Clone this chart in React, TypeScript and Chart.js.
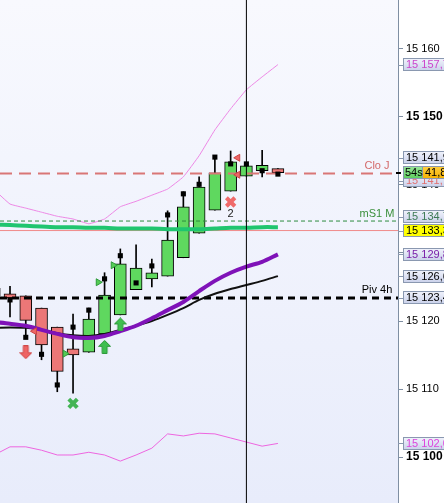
import React, { useEffect, useRef } from 'react';
import { Chart, registerables } from 'chart.js';

Chart.register(...registerables);

const FONT = "'Liberation Sans', Arial, sans-serif";

// ---- data ----
const CANDLE_INDEX = [0, 1, 2, 3, 4, 5, 6, 7, 8, 9, 10, 11, 12, 13, 14, 15, 16, 17, 18];
const OPEN = [15124.8, 15124.0, 15123.7, 15121.9, 15119.1, 15115.9, 15115.4, 15118.1, 15120.9, 15124.6, 15126.2, 15126.6, 15129.3, 15132.9, 15136.3, 15139.1, 15141.3, 15142.1, 15142.4];
const HIGH = [15125.5, 15125.1, 15123.7, 15121.9, 15119.1, 15121.0, 15121.9, 15127.1, 15130.6, 15131.2, 15129.1, 15136.2, 15139.0, 15141.2, 15144.1, 15145.0, 15143.2, 15145.1, 15142.4];
const LOW = [15122.8, 15120.6, 15117.6, 15114.3, 15109.6, 15109.4, 15115.4, 15118.1, 15120.9, 15124.6, 15125.0, 15126.6, 15129.3, 15132.9, 15136.3, 15139.1, 15141.3, 15141.2, 15141.8];
const CLOSE = [15123.7, 15123.4, 15120.1, 15116.5, 15112.6, 15115.0, 15120.3, 15123.8, 15128.4, 15127.8, 15127.1, 15131.9, 15136.8, 15139.7, 15141.8, 15143.4, 15142.8, 15142.9, 15141.8];

const SQUARE_INDEX = [1, 2, 3, 4, 5, 6, 7, 8, 9, 10, 11, 12, 13, 14, 15, 16, 17, 18];
const SQUARE_VALUE = [15123.1, 15117.6, 15115.1, 15110.6, 15119.1, 15121.6, 15126.2, 15129.6, 15125.6, 15128.1, 15135.6, 15138.7, 15140.1, 15144.1, 15143.1, 15143.1, 15142.1, 15141.6];

const BB_UPPER = [15139.3, 15137.2, 15136.6, 15136.0, 15135.4, 15135.0, 15134.3, 15135.0, 15136.8, 15137.6, 15138.5, 15139.4, 15141.2, 15144.3, 15148.1, 15151.2, 15154.0, 15155.9, 15157.7];
const BB_LOWER = [15100.3, 15101.5, 15101.5, 15101.0, 15100.3, 15100.3, 15100.7, 15100.3, 15099.4, 15100.3, 15101.3, 15103.4, 15103.1, 15103.5, 15103.4, 15102.8, 15102.2, 15101.6, 15102.0];
const MA_PURPLE = [15119.85, 15119.6, 15119.3, 15118.7, 15118.1, 15117.6, 15117.5, 15117.8, 15118.5, 15119.3, 15120.4, 15121.6, 15122.8, 15124.4, 15125.9, 15127.1, 15128.0, 15128.7, 15129.8];
const MA_BLACK = [15119.0, 15119.05, 15119.0, 15118.7, 15118.2, 15117.9, 15117.8, 15118.1, 15118.7, 15119.3, 15120.0, 15120.9, 15121.9, 15123.1, 15124.0, 15124.7, 15125.3, 15125.9, 15126.6];
const MA_GREEN = [15134.2, 15134.1, 15134.0, 15133.9, 15133.8, 15133.8, 15133.7, 15133.7, 15133.6, 15133.6, 15133.6, 15133.5, 15133.5, 15133.5, 15133.6, 15133.7, 15133.7, 15133.8, 15133.8];

const LEVEL_CLO_J = 15141.7;
const LEVEL_MS1_M = 15134.7;
const LEVEL_PINK = 15133.3;
const LEVEL_PIV_4H = 15123.4;
const LEVEL_NAMES = ['Clo J', 'mS1 M', 'Piv 4h'];
const LEVEL_NAME_VALUES = [LEVEL_CLO_J, LEVEL_MS1_M, LEVEL_PIV_4H];

const CURSOR_INDEX = 16;

const GREEN_TRI_X = [4.5, 6.6, 7.55];
const GREEN_TRI_Y = [15115.2, 15125.7, 15128.2];
const RED_TRI_X = [15.45, 15.45, 2.55];
const RED_TRI_Y = [15144.0, 15141.5, 15118.5];
const GREEN_ARROW_X = [7, 8];
const GREEN_ARROW_Y = [15116.2, 15119.5];
const RED_ARROW_X = [2];
const RED_ARROW_Y = [15115.4];
const GREEN_CROSS_X = [5];
const GREEN_CROSS_Y = [15107.9];
const RED_CROSS_X = [15];
const RED_CROSS_Y = [15137.5];
const NOTE_X = [15];
const NOTE_Y = [15135.7];
const NOTE_TEXT = ['2'];

const Y_TICKS = [15100, 15110, 15120, 15130, 15140, 15150, 15160];
const BOLD_TICKS = [15100, 15150];

const AXIS_BOX_VALUES = [15157.7, 15141.9, 15141.7, 15134.7, 15133.3, 15129.8, 15126.6, 15123.4, 15102.0];
const AXIS_BOX_TEXT = ['#cc44cc', '#000000', '#e07070', '#3d7a55', '#000000', '#7a1fa8', '#000000', '#000000', '#dd44dd'];
const AXIS_BOX_BG = ['grad', 'grad', 'grad', 'grad', '#ffff00', 'grad', 'grad', 'grad', 'grad'];
const CURRENT_PRICE = 15141.8;
const COUNTDOWN = '54s';

const Y_MIN = 15093.24;
const Y_MAX = 15167.2;
const X_MIN = 0.365;
const X_MAX = 25.62;

function fmtPrice(v: number, dec: number) {
  const s = v.toFixed(dec);
  const [int, frac] = s.split('.');
  const grouped = int.replace(/\B(?=(\d{3})+(?!\d))/g, ' ');
  return frac ? grouped + ',' + frac : grouped;
}

function makeArrow(color: string, edge: string, up: boolean) {
  const c = document.createElement('canvas');
  c.width = 13;
  c.height = 14;
  const g = c.getContext('2d')!;
  if (!up) {
    g.translate(0, 14);
    g.scale(1, -1);
  }
  g.beginPath();
  g.moveTo(6.5, 0.5);
  g.lineTo(12.5, 6.5);
  g.lineTo(9, 6.5);
  g.lineTo(9, 13.5);
  g.lineTo(4, 13.5);
  g.lineTo(4, 6.5);
  g.lineTo(0.5, 6.5);
  g.closePath();
  g.fillStyle = color;
  g.fill();
  g.strokeStyle = edge;
  g.lineWidth = 1;
  g.stroke();
  return c;
}

const xy = (xs: number[], ys: number[]) => xs.map((x, k) => ({ x, y: ys[k] }));
const series = (vals: number[]) => vals.map((y, k) => ({ x: CANDLE_INDEX[k], y }));

const bgPlugin = {
  id: 'bgPlugin',
  beforeDraw(chart: any) {
    const { ctx, chartArea: a, width, height } = chart;
    ctx.save();
    ctx.fillStyle = '#ffffff';
    ctx.fillRect(0, 0, width, height);
    const g = ctx.createLinearGradient(0, a.top, 0, a.bottom);
    g.addColorStop(0, '#f8f9fe');
    g.addColorStop(1, '#e8ecfb');
    ctx.fillStyle = g;
    ctx.fillRect(a.left, a.top, a.right - a.left, a.bottom - a.top);
    ctx.restore();
  },
};

const textPlugin = {
  id: 'textPlugin',
  afterDatasetsDraw(chart: any) {
    const { ctx, chartArea: a, scales } = chart;
    const colors = ['#d46a6a', '#3b8f3b', '#000000'];
    ctx.save();
    ctx.font = `11px ${FONT}`;
    ctx.textAlign = 'center';
    ctx.textBaseline = 'bottom';
    LEVEL_NAMES.forEach((name, k) => {
      const y = scales.y.getPixelForValue(LEVEL_NAME_VALUES[k]);
      ctx.fillStyle = colors[k];
      ctx.fillText(name, a.right - 21, y - 2);
    });
    ctx.textBaseline = 'middle';
    ctx.fillStyle = '#222';
    NOTE_TEXT.forEach((t, k) => {
      ctx.fillText(t, scales.x.getPixelForValue(NOTE_X[k]), scales.y.getPixelForValue(NOTE_Y[k]));
    });
    ctx.restore();
  },
};

const axisBoxPlugin = {
  id: 'axisBoxPlugin',
  afterDraw(chart: any) {
    const { ctx, chartArea: a, scales, width } = chart;
    const h = 13;
    const x0 = a.right + 5;
    const curY = scales.y.getPixelForValue(CURRENT_PRICE);
    const items = AXIS_BOX_VALUES.map((v, k) => ({
      v,
      y: scales.y.getPixelForValue(v),
      text: fmtPrice(v, 1),
      color: AXIS_BOX_TEXT[k],
      bg: AXIS_BOX_BG[k],
    }));
    items.forEach((it) => {
      if (Math.abs(it.y - curY) < h) it.y = it.v >= CURRENT_PRICE ? curY - h - 2 : curY + h - 5;
    });
    const sorted = [...items].sort((p, q) => q.y - p.y);
    for (let k = 1; k < sorted.length; k++) {
      if (sorted[k - 1].y - sorted[k].y < h + 1) sorted[k].y = sorted[k - 1].y - h - 1;
    }
    ctx.save();
    ctx.font = `11px ${FONT}`;
    ctx.textBaseline = 'middle';
    ctx.textAlign = 'left';
    const drawBox = (y: number, fill: any, x1: number, x2: number) => {
      const top = Math.round(y - h / 2);
      ctx.fillStyle = fill;
      ctx.fillRect(x1, top, x2 - x1, h);
      ctx.strokeStyle = '#8a98b0';
      ctx.lineWidth = 1;
      ctx.strokeRect(x1 + 0.5, top + 0.5, x2 - x1, h - 1);
    };
    items.forEach((it) => {
      const top = Math.round(it.y - h / 2);
      let fill: any = it.bg;
      if (it.bg === 'grad') {
        const g = ctx.createLinearGradient(0, top, 0, top + h);
        g.addColorStop(0, '#f2f4fc');
        g.addColorStop(1, '#c9d0ea');
        fill = g;
      }
      ctx.strokeStyle = '#8a98b0';
      ctx.beginPath();
      ctx.moveTo(a.right, Math.round(it.y) + 0.5);
      ctx.lineTo(x0, Math.round(it.y) + 0.5);
      ctx.stroke();
      drawBox(it.y, fill, x0, width + 2);
      ctx.fillStyle = it.color;
      ctx.fillText(it.text, x0 + 3, top + h / 2 + 0.5);
    });
    // current price box
    const top = Math.round(curY - h / 2);
    const split = x0 + 19;
    const gg = ctx.createLinearGradient(0, top, 0, top + h);
    gg.addColorStop(0, '#9be89b');
    gg.addColorStop(1, '#5acb5a');
    drawBox(curY, gg, x0, split);
    const go = ctx.createLinearGradient(0, top, 0, top + h);
    go.addColorStop(0, '#ffd040');
    go.addColorStop(1, '#f5b000');
    drawBox(curY, go, split, width + 2);
    ctx.fillStyle = '#000';
    ctx.font = `11px ${FONT}`;
    ctx.fillText(COUNTDOWN, x0 + 2, top + h / 2 + 0.5);
    ctx.fillText(fmtPrice(CURRENT_PRICE, 1).slice(-4), split + 3, top + h / 2 + 0.5);
    ctx.fillRect(a.right - 2, Math.round(curY) - 1, 5, 2);
    ctx.restore();
  },
};

export default function App() {
  const ref = useRef<HTMLCanvasElement | null>(null);

  useEffect(() => {
    if (!ref.current) return;
    const greenArrow = makeArrow('#3fbf4f', '#2f9a3c', true);
    const redArrow = makeArrow('#ee6464', '#d04848', false);
    const bull = CANDLE_INDEX.map((_, k) => CLOSE[k] >= OPEN[k]);

    const chart = new Chart(ref.current, {
      type: 'bar',
      data: {
        datasets: [
          {
            type: 'bar',
            data: CANDLE_INDEX.map((x, k) => ({ x, y: [LOW[k], HIGH[k]] })) as any,
            backgroundColor: '#000000',
            barThickness: 1,
            grouped: false,
            order: 20,
          } as any,
          {
            type: 'bar',
            data: CANDLE_INDEX.map((x, k) => ({ x, y: [OPEN[k], CLOSE[k]] })) as any,
            backgroundColor: bull.map((b) => (b ? '#5fd85f' : '#ec7777')),
            borderColor: '#000000',
            borderWidth: 1,
            borderSkipped: false,
            barThickness: 12,
            grouped: false,
            order: 19,
          } as any,
          {
            type: 'line',
            data: series(BB_UPPER),
            borderColor: '#ee88e6',
            borderWidth: 1,
            pointRadius: 0,
            tension: 0.1,
            order: 10,
          },
          {
            type: 'line',
            data: series(BB_LOWER),
            borderColor: '#ee66e0',
            borderWidth: 1,
            pointRadius: 0,
            tension: 0,
            order: 10,
          },
          {
            type: 'line',
            data: [
              { x: X_MIN, y: LEVEL_PINK },
              { x: X_MAX, y: LEVEL_PINK },
            ],
            borderColor: '#f08a8a',
            borderWidth: 1,
            pointRadius: 0,
            order: 9,
          },
          {
            type: 'line',
            data: [
              { x: X_MIN, y: LEVEL_MS1_M },
              { x: X_MAX, y: LEVEL_MS1_M },
            ],
            borderColor: '#2e8b3e',
            borderWidth: 1,
            borderDash: [4, 3],
            pointRadius: 0,
            order: 9,
          },
          {
            type: 'line',
            data: series(MA_GREEN),
            borderColor: '#1fc56f',
            borderWidth: 4,
            pointRadius: 0,
            tension: 0.3,
            order: 8,
          },
          {
            type: 'line',
            data: [
              { x: X_MIN, y: LEVEL_CLO_J },
              { x: X_MAX, y: LEVEL_CLO_J },
            ],
            borderColor: '#d97676',
            borderWidth: 2,
            borderDash: [12, 7],
            pointRadius: 0,
            order: 8,
          },
          {
            type: 'line',
            data: [
              { x: X_MIN, y: LEVEL_PIV_4H },
              { x: X_MAX, y: LEVEL_PIV_4H },
            ],
            borderColor: '#000000',
            borderWidth: 3,
            borderDash: [7, 5],
            pointRadius: 0,
            order: 8,
          },
          {
            type: 'line',
            data: series(MA_BLACK),
            borderColor: '#111111',
            borderWidth: 2,
            pointRadius: 0,
            tension: 0.3,
            order: 7,
          },
          {
            type: 'line',
            data: series(MA_PURPLE),
            borderColor: '#7f12b8',
            borderWidth: 4,
            pointRadius: 0,
            tension: 0.3,
            order: 6,
          },
          {
            type: 'scatter',
            data: xy(SQUARE_INDEX, SQUARE_VALUE),
            pointStyle: 'rect',
            pointRadius: 3.6,
            backgroundColor: '#000000',
            borderWidth: 0,
            order: 5,
          },
          {
            type: 'scatter',
            data: xy(GREEN_TRI_X, GREEN_TRI_Y),
            pointStyle: 'triangle',
            rotation: 90,
            pointRadius: 4,
            backgroundColor: '#55cc55',
            borderColor: '#2e9a3a',
            borderWidth: 1,
            order: 4,
          },
          {
            type: 'scatter',
            data: xy(RED_TRI_X, RED_TRI_Y),
            pointStyle: 'triangle',
            rotation: 270,
            pointRadius: 4,
            backgroundColor: '#ee6666',
            borderColor: '#cc4444',
            borderWidth: 1,
            order: 4,
          },
          {
            type: 'scatter',
            data: xy(GREEN_ARROW_X, GREEN_ARROW_Y),
            pointStyle: greenArrow,
            order: 3,
          },
          {
            type: 'scatter',
            data: xy(RED_ARROW_X, RED_ARROW_Y),
            pointStyle: redArrow,
            order: 3,
          },
          {
            type: 'scatter',
            data: xy(GREEN_CROSS_X, GREEN_CROSS_Y),
            pointStyle: 'crossRot',
            pointRadius: 6,
            borderColor: '#44b455',
            borderWidth: 4,
            order: 3,
          },
          {
            type: 'scatter',
            data: xy(RED_CROSS_X, RED_CROSS_Y),
            pointStyle: 'crossRot',
            pointRadius: 6,
            borderColor: '#ef6a6a',
            borderWidth: 4,
            order: 3,
          },
          {
            type: 'line',
            data: [
              { x: CURSOR_INDEX, y: Y_MIN },
              { x: CURSOR_INDEX, y: Y_MAX },
            ],
            borderColor: '#000000',
            borderWidth: 1,
            pointRadius: 0,
            order: 1,
          },
        ] as any,
      },
      options: {
        animation: false,
        responsive: false,
        devicePixelRatio: 1,
        events: [],
        layout: { padding: 0, autoPadding: false },
        plugins: { legend: { display: false }, tooltip: { enabled: false } },
        scales: {
          x: {
            type: 'linear',
            min: X_MIN,
            max: X_MAX,
            display: false,
            offset: false,
          },
          y: {
            type: 'linear',
            position: 'right',
            min: Y_MIN,
            max: Y_MAX,
            afterFit: (s: any) => {
              s.width = 46;
              s.paddingTop = 0;
              s.paddingBottom = 0;
            },
            afterBuildTicks: (s: any) => {
              s.ticks = Y_TICKS.map((value) => ({ value }));
            },
            grid: { drawOnChartArea: false, drawTicks: true, tickLength: 5, color: '#7f8fa3' },
            border: { display: true, color: '#7f8fa3' },
            ticks: {
              padding: 3,
              color: '#000000',
              autoSkip: false,
              callback: (v: any) => fmtPrice(Number(v), 0),
              font: (c: any) =>
                BOLD_TICKS.includes(c.tick?.value)
                  ? { family: FONT, size: 12, weight: 'bold' }
                  : { family: FONT, size: 11, weight: 'normal' },
            },
          },
        },
      } as any,
      plugins: [bgPlugin, textPlugin, axisBoxPlugin],
    });
    return () => chart.destroy();
  }, []);

  return (
    <div style={{ position: 'fixed', left: 0, top: 0, width: 444, height: 503 }}>
      <canvas ref={ref} width={444} height={503} style={{ display: 'block' }} />
    </div>
  );
}
